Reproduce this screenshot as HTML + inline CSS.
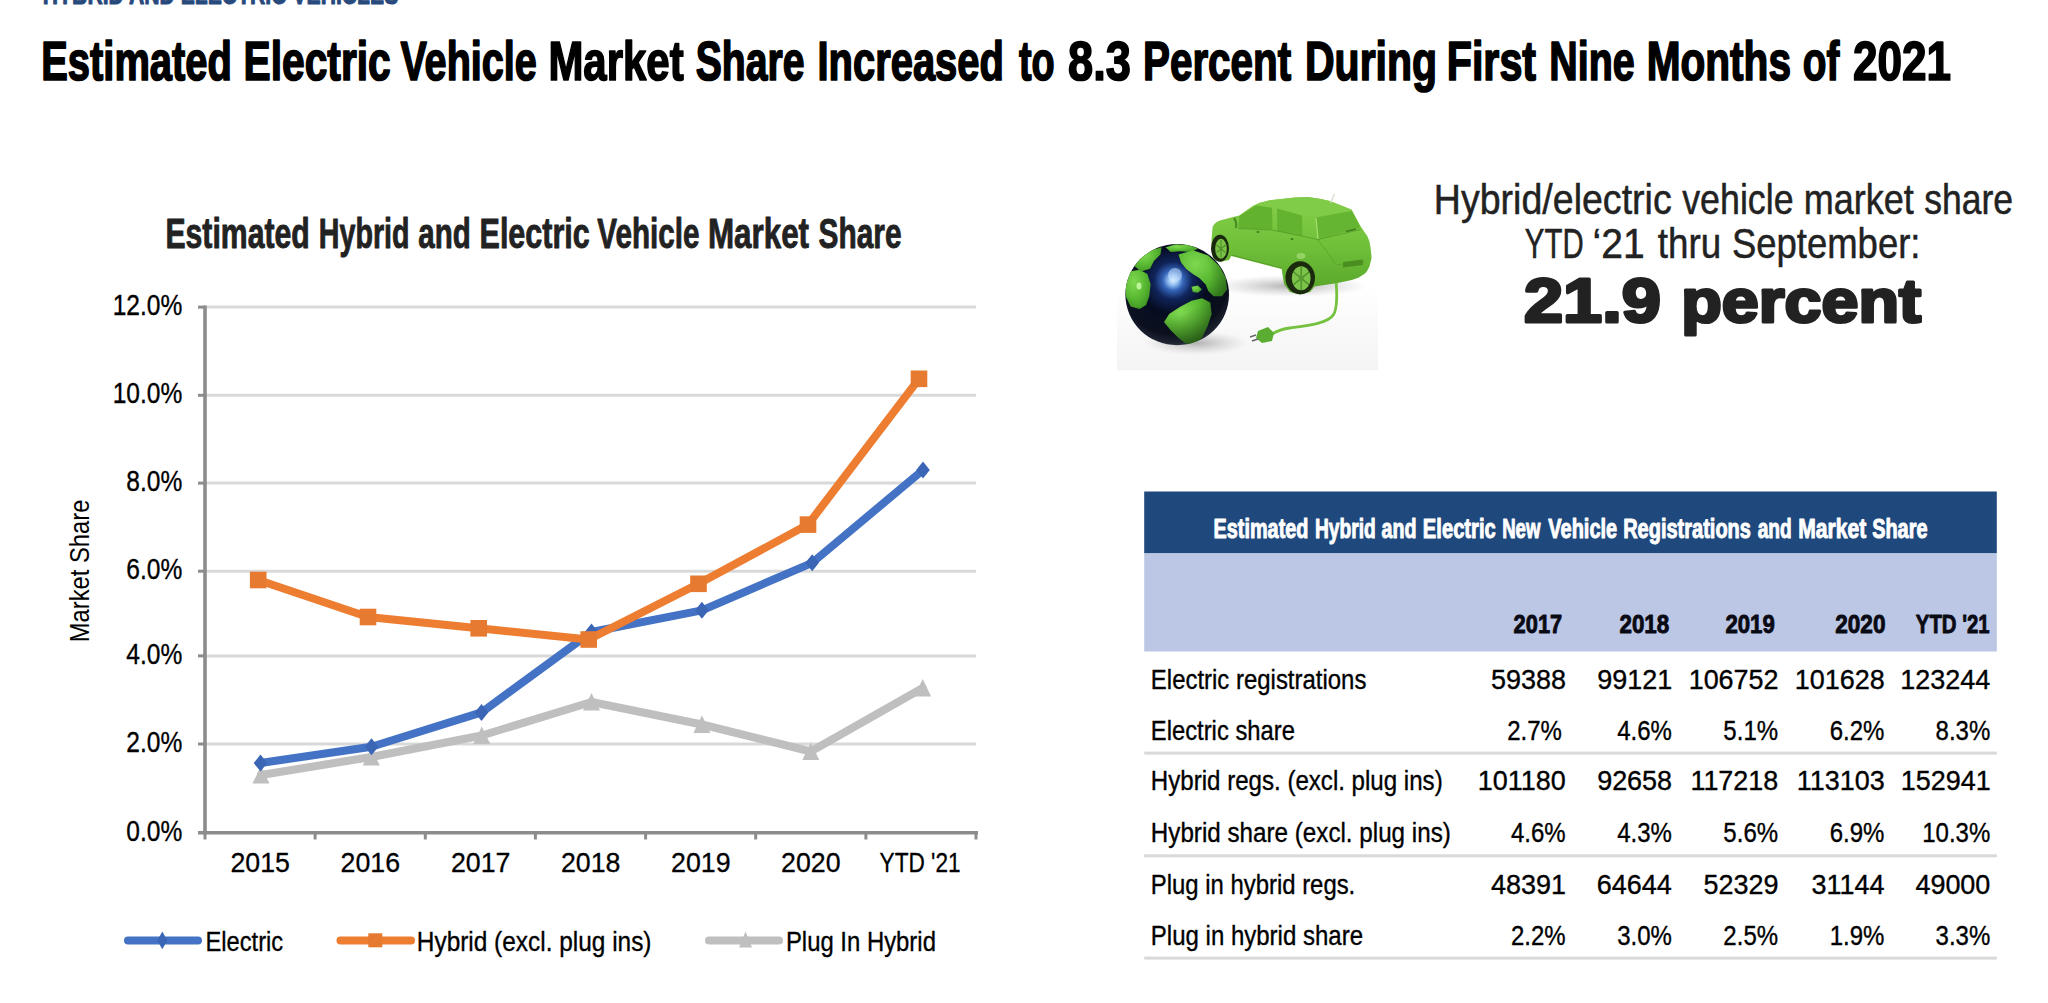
<!DOCTYPE html>
<html><head><meta charset="utf-8"><title>Estimated Electric Vehicle Market Share</title>
<style>
html,body{margin:0;padding:0;background:#fff;}
body{width:2048px;height:1003px;overflow:hidden;font-family:"Liberation Sans",sans-serif;}
svg{display:block;}
svg text{font-family:"Liberation Sans",sans-serif;}
</style></head><body>
<svg width="2048" height="1003" viewBox="0 0 2048 1003">
<rect width="2048" height="1003" fill="#fff"/>

<rect x="1144.2" y="491.5" width="852.6" height="61.9" fill="#1f497d"/>
<rect x="1144.2" y="553.4" width="852.6" height="98.1" fill="#bbc7e4"/>
<rect x="1144.2" y="751.6" width="852.6" height="3" fill="#d9d9d9"/>
<rect x="1144.2" y="854.3" width="852.6" height="3" fill="#d9d9d9"/>
<rect x="1144.2" y="956.6" width="852.6" height="3" fill="#d9d9d9"/>

<defs>
<linearGradient id="floor" x1="0" y1="0" x2="0" y2="1">
<stop offset="0" stop-color="#ffffff"/><stop offset="0.5" stop-color="#f9f9f9"/><stop offset="1" stop-color="#f4f4f4"/>
</linearGradient>
<radialGradient id="gsea" cx="0.46" cy="0.36" r="0.66">
<stop offset="0" stop-color="#e4f2ff"/><stop offset="0.07" stop-color="#94c0f4"/><stop offset="0.15" stop-color="#3464b8"/><stop offset="0.28" stop-color="#10245a"/><stop offset="0.5" stop-color="#060c20"/><stop offset="0.8" stop-color="#0e1426"/><stop offset="0.93" stop-color="#2a3348"/><stop offset="1" stop-color="#5a6478"/>
</radialGradient>
<radialGradient id="gshade" cx="0.4" cy="0.3" r="0.75">
<stop offset="0.55" stop-color="#000" stop-opacity="0"/><stop offset="1" stop-color="#000" stop-opacity="0.45"/>
</radialGradient>
<radialGradient id="gland" cx="0.35" cy="0.3" r="0.8">
<stop offset="0" stop-color="#7fd850"/><stop offset="0.5" stop-color="#5cbc34"/><stop offset="1" stop-color="#3d9222"/>
</radialGradient>
<radialGradient id="shad" cx="0.5" cy="0.5" r="0.5">
<stop offset="0" stop-color="#9a9a9a" stop-opacity="0.75"/><stop offset="1" stop-color="#bbbbbb" stop-opacity="0"/>
</radialGradient>
<linearGradient id="carg" x1="0" y1="0" x2="0" y2="1">
<stop offset="0" stop-color="#86cf4a"/><stop offset="0.5" stop-color="#70c03a"/><stop offset="1" stop-color="#58a42a"/>
</linearGradient>
<clipPath id="globeclip"><ellipse cx="1177.2" cy="294.6" rx="51.8" ry="50.6"/></clipPath>
</defs>
<rect x="1117" y="286" width="261" height="84" fill="url(#floor)"/>
<!-- shadows -->
<ellipse cx="1196" cy="343" rx="52" ry="12" fill="url(#shad)"/>
<ellipse cx="1290" cy="286" rx="78" ry="11" fill="url(#shad)"/>
<!-- globe -->
<ellipse cx="1177.2" cy="294.6" rx="51.8" ry="50.6" fill="url(#gsea)"/>
<g clip-path="url(#globeclip)" fill="url(#gland)">
<polygon points="1125.1,277.8 1130.6,271.3 1139.6,269.7 1147.4,273.9 1150.6,284.3 1149.3,295.9 1146.1,305.0 1139.6,309.1 1130.6,306.5 1125.6,295.9"/>
<polygon points="1134.4,266.1 1140.9,257.0 1151.3,250.3 1161.7,247.3 1160.4,254.4 1153.9,260.9 1150.0,268.7 1140.9,271.6"/>
<polygon points="1165.6,247.3 1175.9,244.3 1188.9,245.1 1198.0,248.6 1191.5,252.1 1179.8,251.3 1170.7,252.1"/>
<polygon points="1178.5,254.4 1192.8,250.3 1208.3,255.5 1219.3,266.1 1225.8,277.8 1227.1,289.4 1221.9,296.2 1213.5,296.2 1208.3,291.0 1205.7,284.5 1199.3,278.0 1192.8,274.1 1186.3,269.0 1181.1,262.5"/>
<polygon points="1164.0,322.1 1169.4,313.8 1179.8,307.1 1191.5,300.8 1202.1,298.3 1210.3,302.4 1211.6,314.3 1207.7,326.0 1202.1,337.7 1194.3,344.5 1185.0,343.2 1177.0,336.4 1170.5,329.9"/>
<polygon points="1191.5,286.8 1198.0,285.6 1201.8,289.4 1198.0,292.7 1192.8,292.0"/>
<ellipse cx="1177.2" cy="294.6" rx="51.8" ry="50.6" fill="url(#gshade)"/>
</g>
<ellipse cx="1175" cy="275" rx="7" ry="7" fill="#c8e4ff" opacity="0.55"/>
<ellipse cx="1139" cy="286" rx="2.5" ry="3.5" fill="#d0ffb0" opacity="0.8"/>
<!-- cable -->
<path d="M1336,281 C1337,292 1338,305 1334,314 C1328,324 1305,326 1290,328 C1282,329 1277,331 1272,334" fill="none" stroke="#74c23f" stroke-width="2.8" stroke-linecap="round"/>
<path d="M1339,300 C1339,309 1337,316 1332,320" fill="none" stroke="#ffffff" stroke-width="1.2" opacity="0.7"/>
<!-- plug -->
<path d="M1258,331 L1268,327 L1274,333 L1272,341 L1262,343 L1256,338 Z" fill="#5aad30"/>
<path d="M1256,335 L1250,337 M1258,339 L1252,341" stroke="#666" stroke-width="1.4"/>
<!-- car body -->
<path d="M1212,252 L1211.5,240 L1212.6,226.7 Q1216,221 1221,220.3 L1232.9,217.1 L1239.3,215.5 L1252.9,206 Q1260,202 1268.8,200.4 L1295,197.6 L1307.9,197.1 Q1320,198.5 1329.9,201 L1351.8,209.8 L1360.6,226.2 L1367.2,236.1 Q1370,241 1370.5,247 L1371.6,258 L1369.4,266.8 Q1367.5,271 1365,273.4 L1358.4,277.8 L1351.8,280 L1336.4,283.3 L1321.1,285.5 L1314.5,286.6 L1310,292 L1300,294.5 L1290,292 L1284,284 L1281.6,269 L1231.3,256 L1229,260 L1220,262 L1213,258 Z" fill="url(#carg)"/>
<path d="M1239.3,215.5 L1252.9,206 Q1260,202 1268.8,200.4 L1295,197.6 L1307.9,197.1 Q1320,198.5 1329.9,201 L1351.8,209.8 L1315.6,217.4 L1302.4,215.2 L1276.8,208.4 L1256,205.2 Z" fill="#80cb48"/>
<!-- windows -->
<path d="M1239.3,216 L1256,205.6 L1272,207.8 L1272.5,229.8 L1238.5,228.3 Z" fill="#62b12f"/>
<path d="M1277,208.6 L1302,215.4 L1302.4,236 L1277.3,231.5 Z" fill="#63b230"/>
<path d="M1315.8,217.6 L1351.6,211 L1360.4,227.4 L1317.8,239.4 Z" fill="#66b532"/>
<path d="M1316,218 L1318,239" stroke="#a8e070" stroke-width="1.2"/>
<path d="M1238.5,228.5 L1272.5,230 L1302.4,236.2 L1317.8,239.6 L1360.6,229.5" fill="none" stroke="#579f28" stroke-width="0.9"/>
<!-- body details -->
<path d="M1317.8,240 Q1330,255 1336,265 L1365,262" fill="none" stroke="#5aa52c" stroke-width="0.9"/>
<path d="M1343,262 L1362.8,259.5 L1362.8,265 L1343,267.5 Z" fill="#4a8e22"/>
<path d="M1346,231.5 L1356,229" stroke="#3f7f1d" stroke-width="1.6"/>
<path d="M1231.5,255 L1281.6,268" stroke="#5aa02a" stroke-width="1"/>
<ellipse cx="1301" cy="256" rx="4.5" ry="3" fill="#a6dc78" opacity="0.7"/>
<ellipse cx="1258" cy="232" rx="1.6" ry="1" fill="#3f7f1d"/>
<ellipse cx="1292" cy="239" rx="1.6" ry="1" fill="#3f7f1d"/>
<path d="M1234,218 Q1237,222 1236,228" stroke="#4a8e22" stroke-width="2.2" fill="none"/>
<!-- wheels -->
<ellipse cx="1220" cy="248.2" rx="9" ry="13.5" fill="#1b2a0e"/>
<ellipse cx="1221" cy="248.8" rx="5.8" ry="10" fill="#7ac246"/>
<path d="M1221,240 L1221,257.6 M1216.5,245 L1225.5,252.6 M1216.5,252.6 L1225.5,245" stroke="#4f8f2a" stroke-width="1.1"/>
<ellipse cx="1300.2" cy="277.8" rx="14.8" ry="16.5" fill="#1b2a0e"/>
<ellipse cx="1301.2" cy="278.3" rx="9.4" ry="12" fill="#7cc34a"/>
<path d="M1301.2,266.5 L1301.2,290 M1293.5,272 L1309,284.6 M1293.5,284.6 L1309,272" stroke="#4f8f2a" stroke-width="1.4"/>
<ellipse cx="1301.2" cy="278.3" rx="2.4" ry="3" fill="#5a9a32"/>
<!-- antenna -->
<path d="M1330.5,203 L1334.5,194" stroke="#d0dcc8" stroke-width="1.2"/>

<line x1="206" x2="976" y1="744.0" y2="744.0" stroke="#d9d9d9" stroke-width="3"/>
<line x1="206" x2="976" y1="655.9" y2="655.9" stroke="#d9d9d9" stroke-width="3"/>
<line x1="206" x2="976" y1="571.2" y2="571.2" stroke="#d9d9d9" stroke-width="3"/>
<line x1="206" x2="976" y1="483.1" y2="483.1" stroke="#d9d9d9" stroke-width="3"/>
<line x1="206" x2="976" y1="395.3" y2="395.3" stroke="#d9d9d9" stroke-width="3"/>
<line x1="206" x2="976" y1="307.1" y2="307.1" stroke="#d9d9d9" stroke-width="3"/>
<line x1="205" x2="205" y1="305.5" y2="834.5" stroke="#8c8c8c" stroke-width="3.6"/>
<line x1="198" x2="978" y1="832.8" y2="832.8" stroke="#8c8c8c" stroke-width="3.6"/>
<line x1="198" x2="205" y1="744.0" y2="744.0" stroke="#8c8c8c" stroke-width="3"/>
<line x1="198" x2="205" y1="655.9" y2="655.9" stroke="#8c8c8c" stroke-width="3"/>
<line x1="198" x2="205" y1="571.2" y2="571.2" stroke="#8c8c8c" stroke-width="3"/>
<line x1="198" x2="205" y1="483.1" y2="483.1" stroke="#8c8c8c" stroke-width="3"/>
<line x1="198" x2="205" y1="395.3" y2="395.3" stroke="#8c8c8c" stroke-width="3"/>
<line x1="198" x2="205" y1="307.1" y2="307.1" stroke="#8c8c8c" stroke-width="3"/>
<line x1="205.0" x2="205.0" y1="832" y2="839.5" stroke="#8c8c8c" stroke-width="3"/>
<line x1="315.1" x2="315.1" y1="832" y2="839.5" stroke="#8c8c8c" stroke-width="3"/>
<line x1="425.3" x2="425.3" y1="832" y2="839.5" stroke="#8c8c8c" stroke-width="3"/>
<line x1="535.4" x2="535.4" y1="832" y2="839.5" stroke="#8c8c8c" stroke-width="3"/>
<line x1="645.6" x2="645.6" y1="832" y2="839.5" stroke="#8c8c8c" stroke-width="3"/>
<line x1="755.7" x2="755.7" y1="832" y2="839.5" stroke="#8c8c8c" stroke-width="3"/>
<line x1="865.9" x2="865.9" y1="832" y2="839.5" stroke="#8c8c8c" stroke-width="3"/>
<line x1="976.0" x2="976.0" y1="832" y2="839.5" stroke="#8c8c8c" stroke-width="3"/>
<polyline points="261.0,775.0 371.3,757.0 481.8,735.5 591.5,702.0 701.9,724.5 810.8,751.5 922.7,688.0" fill="none" stroke="#bfbfbf" stroke-width="8" stroke-linejoin="round" stroke-linecap="round"/>
<polygon points="261.0,766.0 269.5,783.5 252.5,783.5" fill="#bfbfbf"/>
<polygon points="371.3,748.0 379.8,765.5 362.8,765.5" fill="#bfbfbf"/>
<polygon points="481.8,726.5 490.3,744.0 473.3,744.0" fill="#bfbfbf"/>
<polygon points="591.5,693.0 600.0,710.5 583.0,710.5" fill="#bfbfbf"/>
<polygon points="701.9,715.5 710.4,733.0 693.4,733.0" fill="#bfbfbf"/>
<polygon points="810.8,742.5 819.3,760.0 802.3,760.0" fill="#bfbfbf"/>
<polygon points="922.7,679.0 931.2,696.5 914.2,696.5" fill="#bfbfbf"/>
<polyline points="260.5,763.0 371.5,746.8 481.5,712.4 591.5,632.0 701.9,610.3 812.2,562.8 923.0,470.0" fill="none" stroke="#4472c4" stroke-width="8" stroke-linejoin="round" stroke-linecap="round"/>
<polygon points="260.5,754.5 267.3,763.0 260.5,771.5 253.7,763.0" fill="#3b65b5"/>
<polygon points="371.5,738.3 378.3,746.8 371.5,755.3 364.7,746.8" fill="#3b65b5"/>
<polygon points="481.5,703.9 488.3,712.4 481.5,720.9 474.7,712.4" fill="#3b65b5"/>
<polygon points="591.5,623.5 598.3,632.0 591.5,640.5 584.7,632.0" fill="#3b65b5"/>
<polygon points="701.9,601.8 708.6999999999999,610.3 701.9,618.8 695.1,610.3" fill="#3b65b5"/>
<polygon points="812.2,554.3 819.0,562.8 812.2,571.3 805.4000000000001,562.8" fill="#3b65b5"/>
<polygon points="923.0,461.5 929.8,470.0 923.0,478.5 916.2,470.0" fill="#3b65b5"/>
<polyline points="258.2,580.0 368.0,617.0 478.7,628.3 588.7,639.5 698.5,583.8 808.0,524.6 919.0,378.8" fill="none" stroke="#ed7d31" stroke-width="8" stroke-linejoin="round" stroke-linecap="round"/>
<rect x="249.89999999999998" y="571.7" width="16.6" height="16.6" fill="#e67a30"/>
<rect x="359.7" y="608.7" width="16.6" height="16.6" fill="#e67a30"/>
<rect x="470.4" y="620.0" width="16.6" height="16.6" fill="#e67a30"/>
<rect x="580.4000000000001" y="631.2" width="16.6" height="16.6" fill="#e67a30"/>
<rect x="690.2" y="575.5" width="16.6" height="16.6" fill="#e67a30"/>
<rect x="799.7" y="516.3000000000001" width="16.6" height="16.6" fill="#e67a30"/>
<rect x="910.7" y="370.5" width="16.6" height="16.6" fill="#e67a30"/>
<line x1="128" x2="198" y1="940.4" y2="940.4" stroke="#4472c4" stroke-width="8" stroke-linecap="round"/>
<polygon points="162.3,931.5 167.3,940.4 162.3,949.3 157.3,940.4" fill="#3b65b5"/>
<line x1="340.5" x2="411" y1="940.4" y2="940.4" stroke="#ed7d31" stroke-width="8" stroke-linecap="round"/>
<rect x="368.3" y="933.3" width="14" height="14" fill="#e67a30"/>
<line x1="709" x2="779" y1="940.4" y2="940.4" stroke="#bfbfbf" stroke-width="8" stroke-linecap="round"/>
<polygon points="745.5,931.5 752,947.5 739,947.5" fill="#bfbfbf"/>
<text transform="translate(89,642.30) rotate(-90) scale(0.8757,1)" font-size="27.17" fill="#000">Market Share</text>
<text transform="translate(42.69,4.10) scale(0.7306,1)" font-size="28.99" font-weight="bold" fill="#27497c" stroke="#27497c" stroke-width="1.0" stroke-linejoin="round">HYBRID AND ELECTRIC VEHICLES</text>
<text transform="translate(41.22,80.45) scale(0.7265,1)" font-size="54.93" font-weight="bold" fill="#000" stroke="#000" stroke-width="1.7" stroke-linejoin="round">Estimated</text>
<text transform="translate(243.48,80.45) scale(0.7419,1)" font-size="54.93" font-weight="bold" fill="#000" stroke="#000" stroke-width="1.7" stroke-linejoin="round">Electric</text>
<text transform="translate(400.41,80.45) scale(0.7206,1)" font-size="54.93" font-weight="bold" fill="#000" stroke="#000" stroke-width="1.7" stroke-linejoin="round">Vehicle</text>
<text transform="translate(548.42,80.45) scale(0.7638,1)" font-size="54.93" font-weight="bold" fill="#000" stroke="#000" stroke-width="1.7" stroke-linejoin="round">Market</text>
<text transform="translate(695.68,80.45) scale(0.7127,1)" font-size="54.93" font-weight="bold" fill="#000" stroke="#000" stroke-width="1.7" stroke-linejoin="round">Share</text>
<text transform="translate(817.52,80.45) scale(0.7269,1)" font-size="54.93" font-weight="bold" fill="#000" stroke="#000" stroke-width="1.7" stroke-linejoin="round">Increased</text>
<text transform="translate(1018.96,80.45) scale(0.6882,1)" font-size="54.93" font-weight="bold" fill="#000" stroke="#000" stroke-width="1.7" stroke-linejoin="round">to</text>
<text transform="translate(1068.09,80.45) scale(0.8224,1)" font-size="54.93" font-weight="bold" fill="#000" stroke="#000" stroke-width="1.7" stroke-linejoin="round">8.3</text>
<text transform="translate(1143.00,80.45) scale(0.7353,1)" font-size="54.93" font-weight="bold" fill="#000" stroke="#000" stroke-width="1.7" stroke-linejoin="round">Percent</text>
<text transform="translate(1304.97,80.45) scale(0.7467,1)" font-size="54.93" font-weight="bold" fill="#000" stroke="#000" stroke-width="1.7" stroke-linejoin="round">During</text>
<text transform="translate(1446.71,80.45) scale(0.7511,1)" font-size="54.93" font-weight="bold" fill="#000" stroke="#000" stroke-width="1.7" stroke-linejoin="round">First</text>
<text transform="translate(1549.30,80.45) scale(0.7166,1)" font-size="54.93" font-weight="bold" fill="#000" stroke="#000" stroke-width="1.7" stroke-linejoin="round">Nine</text>
<text transform="translate(1646.74,80.45) scale(0.7388,1)" font-size="54.93" font-weight="bold" fill="#000" stroke="#000" stroke-width="1.7" stroke-linejoin="round">Months</text>
<text transform="translate(1802.80,80.45) scale(0.7051,1)" font-size="54.93" font-weight="bold" fill="#000" stroke="#000" stroke-width="1.7" stroke-linejoin="round">of</text>
<text transform="translate(1852.89,80.45) scale(0.8029,1)" font-size="54.93" font-weight="bold" fill="#000" stroke="#000" stroke-width="1.7" stroke-linejoin="round">2021</text>
<text transform="translate(165.46,248.35) scale(0.7206,1)" font-size="41.88" font-weight="bold" fill="#222" stroke="#222" stroke-width="0.9" stroke-linejoin="round">Estimated</text>
<text transform="translate(318.75,248.35) scale(0.6843,1)" font-size="41.88" font-weight="bold" fill="#222" stroke="#222" stroke-width="0.9" stroke-linejoin="round">Hybrid</text>
<text transform="translate(418.23,248.35) scale(0.7044,1)" font-size="41.88" font-weight="bold" fill="#222" stroke="#222" stroke-width="0.9" stroke-linejoin="round">and</text>
<text transform="translate(479.54,248.35) scale(0.7291,1)" font-size="41.88" font-weight="bold" fill="#222" stroke="#222" stroke-width="0.9" stroke-linejoin="round">Electric</text>
<text transform="translate(597.37,248.35) scale(0.7079,1)" font-size="41.88" font-weight="bold" fill="#222" stroke="#222" stroke-width="0.9" stroke-linejoin="round">Vehicle</text>
<text transform="translate(707.90,248.35) scale(0.7495,1)" font-size="41.88" font-weight="bold" fill="#222" stroke="#222" stroke-width="0.9" stroke-linejoin="round">Market</text>
<text transform="translate(818.53,248.35) scale(0.7128,1)" font-size="41.88" font-weight="bold" fill="#222" stroke="#222" stroke-width="0.9" stroke-linejoin="round">Share</text>
<text transform="translate(126.31,841.03) scale(0.8494,1)" font-size="28.91" font-weight="normal" fill="#000" stroke="#000" stroke-width="0.35" stroke-linejoin="round">0.0%</text>
<text transform="translate(126.31,752.03) scale(0.8494,1)" font-size="28.91" font-weight="normal" fill="#000" stroke="#000" stroke-width="0.35" stroke-linejoin="round">2.0%</text>
<text transform="translate(126.31,663.93) scale(0.8494,1)" font-size="28.91" font-weight="normal" fill="#000" stroke="#000" stroke-width="0.35" stroke-linejoin="round">4.0%</text>
<text transform="translate(126.31,579.23) scale(0.8494,1)" font-size="28.91" font-weight="normal" fill="#000" stroke="#000" stroke-width="0.35" stroke-linejoin="round">6.0%</text>
<text transform="translate(126.31,491.12) scale(0.8494,1)" font-size="28.91" font-weight="normal" fill="#000" stroke="#000" stroke-width="0.35" stroke-linejoin="round">8.0%</text>
<text transform="translate(112.68,403.32) scale(0.8494,1)" font-size="28.91" font-weight="normal" fill="#000" stroke="#000" stroke-width="0.35" stroke-linejoin="round">10.0%</text>
<text transform="translate(112.68,315.12) scale(0.8494,1)" font-size="28.91" font-weight="normal" fill="#000" stroke="#000" stroke-width="0.35" stroke-linejoin="round">12.0%</text>
<text transform="translate(230.47,871.85) scale(0.9467,1)" font-size="28.26" font-weight="normal" fill="#000" stroke="#000" stroke-width="0.3" stroke-linejoin="round">2015</text>
<text transform="translate(340.62,871.85) scale(0.9467,1)" font-size="28.26" font-weight="normal" fill="#000" stroke="#000" stroke-width="0.3" stroke-linejoin="round">2016</text>
<text transform="translate(450.89,871.85) scale(0.9467,1)" font-size="28.26" font-weight="normal" fill="#000" stroke="#000" stroke-width="0.3" stroke-linejoin="round">2017</text>
<text transform="translate(560.90,871.85) scale(0.9467,1)" font-size="28.26" font-weight="normal" fill="#000" stroke="#000" stroke-width="0.3" stroke-linejoin="round">2018</text>
<text transform="translate(671.11,871.85) scale(0.9467,1)" font-size="28.26" font-weight="normal" fill="#000" stroke="#000" stroke-width="0.3" stroke-linejoin="round">2019</text>
<text transform="translate(781.12,871.85) scale(0.9467,1)" font-size="28.26" font-weight="normal" fill="#000" stroke="#000" stroke-width="0.3" stroke-linejoin="round">2020</text>
<text transform="translate(879.55,871.85) scale(0.8010,1)" font-size="28.26" font-weight="normal" fill="#000" stroke="#000" stroke-width="0.3" stroke-linejoin="round">YTD &#x27;21</text>
<text transform="translate(205.45,951.33) scale(0.8371,1)" font-size="28.33" font-weight="normal" fill="#000" stroke="#000" stroke-width="0.35" stroke-linejoin="round">Electric</text>
<text transform="translate(416.80,951.33) scale(0.8620,1)" font-size="28.33" font-weight="normal" fill="#000" stroke="#000" stroke-width="0.35" stroke-linejoin="round">Hybrid (excl. plug ins)</text>
<text transform="translate(785.94,951.33) scale(0.8434,1)" font-size="28.33" font-weight="normal" fill="#000" stroke="#000" stroke-width="0.35" stroke-linejoin="round">Plug In Hybrid</text>
<text transform="translate(1433.82,214.05) scale(0.8844,1)" font-size="42.46" font-weight="normal" fill="#222" stroke="#222" stroke-width="0.5" stroke-linejoin="round">Hybrid/electric</text>
<text transform="translate(1682.23,214.05) scale(0.8425,1)" font-size="42.46" font-weight="normal" fill="#222" stroke="#222" stroke-width="0.5" stroke-linejoin="round">vehicle</text>
<text transform="translate(1803.77,214.05) scale(0.8487,1)" font-size="42.46" font-weight="normal" fill="#222" stroke="#222" stroke-width="0.5" stroke-linejoin="round">market</text>
<text transform="translate(1924.24,214.05) scale(0.8360,1)" font-size="42.46" font-weight="normal" fill="#222" stroke="#222" stroke-width="0.5" stroke-linejoin="round">share</text>
<text transform="translate(1524.84,257.55) scale(0.6972,1)" font-size="42.17" font-weight="normal" fill="#222" stroke="#222" stroke-width="0.5" stroke-linejoin="round">YTD</text>
<text transform="translate(1592.59,257.55) scale(0.9260,1)" font-size="42.17" font-weight="normal" fill="#222" stroke="#222" stroke-width="0.5" stroke-linejoin="round">‘21</text>
<text transform="translate(1657.87,257.55) scale(0.8727,1)" font-size="42.17" font-weight="normal" fill="#222" stroke="#222" stroke-width="0.5" stroke-linejoin="round">thru</text>
<text transform="translate(1731.97,257.55) scale(0.8649,1)" font-size="42.17" font-weight="normal" fill="#222" stroke="#222" stroke-width="0.5" stroke-linejoin="round">September:</text>
<text transform="translate(1524.05,322.20) scale(1.1322,1)" font-size="62.03" font-weight="bold" fill="#222" stroke="#222" stroke-width="3.2" stroke-linejoin="round">21.9</text>
<text transform="translate(1681.20,322.20) scale(1.0707,1)" font-size="62.03" font-weight="bold" fill="#222" stroke="#222" stroke-width="3.2" stroke-linejoin="round">percent</text>
<text transform="translate(1213.57,538.40) scale(0.7252,1)" font-size="27.39" font-weight="bold" fill="#fff" stroke="#fff" stroke-width="1.0" stroke-linejoin="round">Estimated</text>
<text transform="translate(1315.00,538.40) scale(0.7013,1)" font-size="27.39" font-weight="bold" fill="#fff" stroke="#fff" stroke-width="1.0" stroke-linejoin="round">Hybrid</text>
<text transform="translate(1381.57,538.40) scale(0.7168,1)" font-size="27.39" font-weight="bold" fill="#fff" stroke="#fff" stroke-width="1.0" stroke-linejoin="round">and</text>
<text transform="translate(1422.86,538.40) scale(0.7370,1)" font-size="27.39" font-weight="bold" fill="#fff" stroke="#fff" stroke-width="1.0" stroke-linejoin="round">Electric</text>
<text transform="translate(1502.13,538.40) scale(0.6811,1)" font-size="27.39" font-weight="bold" fill="#fff" stroke="#fff" stroke-width="1.0" stroke-linejoin="round">New</text>
<text transform="translate(1548.36,538.40) scale(0.7288,1)" font-size="27.39" font-weight="bold" fill="#fff" stroke="#fff" stroke-width="1.0" stroke-linejoin="round">Vehicle</text>
<text transform="translate(1623.16,538.40) scale(0.7306,1)" font-size="27.39" font-weight="bold" fill="#fff" stroke="#fff" stroke-width="1.0" stroke-linejoin="round">Registrations</text>
<text transform="translate(1757.67,538.40) scale(0.6997,1)" font-size="27.39" font-weight="bold" fill="#fff" stroke="#fff" stroke-width="1.0" stroke-linejoin="round">and</text>
<text transform="translate(1798.21,538.40) scale(0.7711,1)" font-size="27.39" font-weight="bold" fill="#fff" stroke="#fff" stroke-width="1.0" stroke-linejoin="round">Market</text>
<text transform="translate(1872.17,538.40) scale(0.7271,1)" font-size="27.39" font-weight="bold" fill="#fff" stroke="#fff" stroke-width="1.0" stroke-linejoin="round">Share</text>
<text transform="translate(1513.61,633.45) scale(0.8325,1)" font-size="26.23" font-weight="bold" fill="#0a0a14" stroke="#0a0a14" stroke-width="0.9" stroke-linejoin="round">2017</text>
<text transform="translate(1619.50,633.45) scale(0.8530,1)" font-size="26.23" font-weight="bold" fill="#0a0a14" stroke="#0a0a14" stroke-width="0.9" stroke-linejoin="round">2018</text>
<text transform="translate(1725.40,633.45) scale(0.8463,1)" font-size="26.23" font-weight="bold" fill="#0a0a14" stroke="#0a0a14" stroke-width="0.9" stroke-linejoin="round">2019</text>
<text transform="translate(1835.20,633.45) scale(0.8622,1)" font-size="26.23" font-weight="bold" fill="#0a0a14" stroke="#0a0a14" stroke-width="0.9" stroke-linejoin="round">2020</text>
<text transform="translate(1915.84,633.45) scale(0.7763,1)" font-size="26.23" font-weight="bold" fill="#0a0a14" stroke="#0a0a14" stroke-width="0.9" stroke-linejoin="round">YTD &#x27;21</text>
<text transform="translate(1150.84,688.62) scale(0.8956,1)" font-size="26.74" font-weight="normal" fill="#000" stroke="#000" stroke-width="0.35" stroke-linejoin="round">Electric registrations</text>
<text transform="translate(1490.94,688.62) scale(0.9977,1)" font-size="27.03" font-weight="normal" fill="#000" stroke="#000" stroke-width="0.35" stroke-linejoin="round">59388</text>
<text transform="translate(1597.27,688.62) scale(0.9977,1)" font-size="27.03" font-weight="normal" fill="#000" stroke="#000" stroke-width="0.35" stroke-linejoin="round">99121</text>
<text transform="translate(1688.64,688.62) scale(0.9977,1)" font-size="27.03" font-weight="normal" fill="#000" stroke="#000" stroke-width="0.35" stroke-linejoin="round">106752</text>
<text transform="translate(1794.77,688.62) scale(0.9977,1)" font-size="27.03" font-weight="normal" fill="#000" stroke="#000" stroke-width="0.35" stroke-linejoin="round">101628</text>
<text transform="translate(1900.30,688.62) scale(0.9977,1)" font-size="27.03" font-weight="normal" fill="#000" stroke="#000" stroke-width="0.35" stroke-linejoin="round">123244</text>
<text transform="translate(1150.85,739.83) scale(0.8892,1)" font-size="26.74" font-weight="normal" fill="#000" stroke="#000" stroke-width="0.35" stroke-linejoin="round">Electric share</text>
<text transform="translate(1507.27,739.83) scale(0.8879,1)" font-size="27.03" font-weight="normal" fill="#000" stroke="#000" stroke-width="0.35" stroke-linejoin="round">2.7%</text>
<text transform="translate(1617.17,739.83) scale(0.8879,1)" font-size="27.03" font-weight="normal" fill="#000" stroke="#000" stroke-width="0.35" stroke-linejoin="round">4.6%</text>
<text transform="translate(1723.37,739.83) scale(0.8879,1)" font-size="27.03" font-weight="normal" fill="#000" stroke="#000" stroke-width="0.35" stroke-linejoin="round">5.1%</text>
<text transform="translate(1829.77,739.83) scale(0.8879,1)" font-size="27.03" font-weight="normal" fill="#000" stroke="#000" stroke-width="0.35" stroke-linejoin="round">6.2%</text>
<text transform="translate(1935.57,739.83) scale(0.8879,1)" font-size="27.03" font-weight="normal" fill="#000" stroke="#000" stroke-width="0.35" stroke-linejoin="round">8.3%</text>
<text transform="translate(1150.83,790.43) scale(0.9016,1)" font-size="26.74" font-weight="normal" fill="#000" stroke="#000" stroke-width="0.35" stroke-linejoin="round">Hybrid regs. (excl. plug ins)</text>
<text transform="translate(1477.86,790.43) scale(0.9977,1)" font-size="27.03" font-weight="normal" fill="#000" stroke="#000" stroke-width="0.35" stroke-linejoin="round">101180</text>
<text transform="translate(1597.14,790.43) scale(0.9977,1)" font-size="27.03" font-weight="normal" fill="#000" stroke="#000" stroke-width="0.35" stroke-linejoin="round">92658</text>
<text transform="translate(1690.39,790.43) scale(0.9977,1)" font-size="27.03" font-weight="normal" fill="#000" stroke="#000" stroke-width="0.35" stroke-linejoin="round">117218</text>
<text transform="translate(1796.79,790.43) scale(0.9977,1)" font-size="27.03" font-weight="normal" fill="#000" stroke="#000" stroke-width="0.35" stroke-linejoin="round">113103</text>
<text transform="translate(1900.71,790.43) scale(0.9977,1)" font-size="27.03" font-weight="normal" fill="#000" stroke="#000" stroke-width="0.35" stroke-linejoin="round">152941</text>
<text transform="translate(1150.82,841.62) scale(0.9054,1)" font-size="26.74" font-weight="normal" fill="#000" stroke="#000" stroke-width="0.35" stroke-linejoin="round">Hybrid share (excl. plug ins)</text>
<text transform="translate(1510.97,841.62) scale(0.8879,1)" font-size="27.03" font-weight="normal" fill="#000" stroke="#000" stroke-width="0.35" stroke-linejoin="round">4.6%</text>
<text transform="translate(1617.17,841.62) scale(0.8879,1)" font-size="27.03" font-weight="normal" fill="#000" stroke="#000" stroke-width="0.35" stroke-linejoin="round">4.3%</text>
<text transform="translate(1723.37,841.62) scale(0.8879,1)" font-size="27.03" font-weight="normal" fill="#000" stroke="#000" stroke-width="0.35" stroke-linejoin="round">5.6%</text>
<text transform="translate(1829.77,841.62) scale(0.8879,1)" font-size="27.03" font-weight="normal" fill="#000" stroke="#000" stroke-width="0.35" stroke-linejoin="round">6.9%</text>
<text transform="translate(1922.25,841.62) scale(0.8879,1)" font-size="27.03" font-weight="normal" fill="#000" stroke="#000" stroke-width="0.35" stroke-linejoin="round">10.3%</text>
<text transform="translate(1150.85,893.73) scale(0.8932,1)" font-size="26.74" font-weight="normal" fill="#000" stroke="#000" stroke-width="0.35" stroke-linejoin="round">Plug in hybrid regs.</text>
<text transform="translate(1491.07,893.73) scale(0.9977,1)" font-size="27.03" font-weight="normal" fill="#000" stroke="#000" stroke-width="0.35" stroke-linejoin="round">48391</text>
<text transform="translate(1596.87,893.73) scale(0.9977,1)" font-size="27.03" font-weight="normal" fill="#000" stroke="#000" stroke-width="0.35" stroke-linejoin="round">64644</text>
<text transform="translate(1703.47,893.73) scale(0.9977,1)" font-size="27.03" font-weight="normal" fill="#000" stroke="#000" stroke-width="0.35" stroke-linejoin="round">52329</text>
<text transform="translate(1811.49,893.73) scale(0.9977,1)" font-size="27.03" font-weight="normal" fill="#000" stroke="#000" stroke-width="0.35" stroke-linejoin="round">31144</text>
<text transform="translate(1915.40,893.73) scale(0.9977,1)" font-size="27.03" font-weight="normal" fill="#000" stroke="#000" stroke-width="0.35" stroke-linejoin="round">49000</text>
<text transform="translate(1150.84,944.83) scale(0.8981,1)" font-size="26.74" font-weight="normal" fill="#000" stroke="#000" stroke-width="0.35" stroke-linejoin="round">Plug in hybrid share</text>
<text transform="translate(1510.97,944.83) scale(0.8879,1)" font-size="27.03" font-weight="normal" fill="#000" stroke="#000" stroke-width="0.35" stroke-linejoin="round">2.2%</text>
<text transform="translate(1617.17,944.83) scale(0.8879,1)" font-size="27.03" font-weight="normal" fill="#000" stroke="#000" stroke-width="0.35" stroke-linejoin="round">3.0%</text>
<text transform="translate(1723.37,944.83) scale(0.8879,1)" font-size="27.03" font-weight="normal" fill="#000" stroke="#000" stroke-width="0.35" stroke-linejoin="round">2.5%</text>
<text transform="translate(1829.77,944.83) scale(0.8879,1)" font-size="27.03" font-weight="normal" fill="#000" stroke="#000" stroke-width="0.35" stroke-linejoin="round">1.9%</text>
<text transform="translate(1935.57,944.83) scale(0.8879,1)" font-size="27.03" font-weight="normal" fill="#000" stroke="#000" stroke-width="0.35" stroke-linejoin="round">3.3%</text>
</svg>
</body></html>
